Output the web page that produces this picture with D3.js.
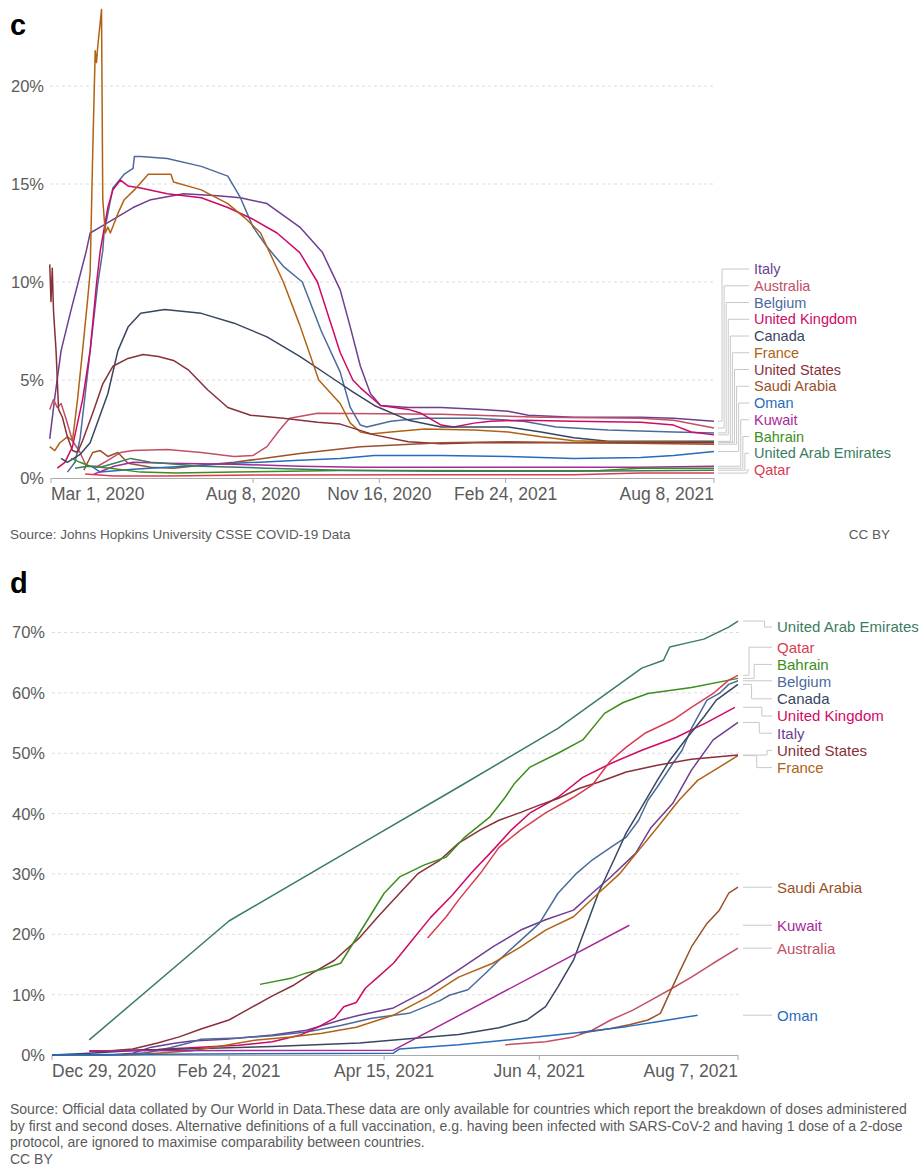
<!DOCTYPE html>
<html><head><meta charset="utf-8">
<script src="https://cdn.jsdelivr.net/npm/d3@7"></script>
<style>
html,body{margin:0;padding:0;background:#fff;}
svg{display:block;font-family:"Liberation Sans",Arial,Helvetica,sans-serif;}
</style></head>
<body>
<svg id="chart" width="920" height="1165"></svg>
<script>
// ---------------- DATA: chart c (case fatality rate, %) ----------------
const cfrItaly = [["2020-02-29",2.0],["2020-03-04",4.1],["2020-03-09",6.5],["2020-03-17",8.6],["2020-03-25",10.6],["2020-03-29",11.6],["2020-04-01",12.5],["2020-04-09",12.8],["2020-04-22",13.3],["2020-05-05",13.8],["2020-05-19",14.2],["2020-06-14",14.5],["2020-07-11",14.4],["2020-07-29",14.3],["2020-08-19",14.0],["2020-09-14",12.8],["2020-10-02",11.5],["2020-10-16",9.6],["2020-10-24",7.7],["2020-11-01",5.7],["2020-11-09",4.3],["2020-11-17",3.7],["2020-12-09",3.6],["2021-01-04",3.6],["2021-02-05",3.5],["2021-02-26",3.4],["2021-03-14",3.2],["2021-04-19",3.1],["2021-06-11",3.1],["2021-07-07",3.05],["2021-08-08",2.9]];
const cfrAustralia = [["2020-02-29",3.5],["2020-03-03",4.0],["2020-03-06",3.6],["2020-03-09",3.8],["2020-03-13",3.0],["2020-03-18",1.9],["2020-03-24",1.3],["2020-03-29",0.6],["2020-04-07",0.6],["2020-04-15",0.9],["2020-04-25",1.3],["2020-05-05",1.4],["2020-06-01",1.45],["2020-06-28",1.3],["2020-07-24",1.1],["2020-08-08",1.15],["2020-08-19",1.6],["2020-08-29",2.45],["2020-09-06",3.05],["2020-09-28",3.3],["2021-01-04",3.25],["2021-03-24",3.1],["2021-06-11",3.05],["2021-07-07",2.95],["2021-08-08",2.55]];
const cfrBelgium = [["2020-03-14",0.3],["2020-03-20",0.8],["2020-03-24",2.0],["2020-03-26",3.1],["2020-04-01",6.5],["2020-04-07",9.9],["2020-04-11",11.6],["2020-04-12",12.5],["2020-04-19",14.8],["2020-04-28",15.5],["2020-05-05",15.8],["2020-05-06",16.4],["2020-05-11",16.4],["2020-06-01",16.3],["2020-06-28",15.9],["2020-07-19",15.4],["2020-07-29",14.3],["2020-08-08",12.8],["2020-08-19",11.8],["2020-09-01",10.8],["2020-09-16",10.0],["2020-10-01",7.5],["2020-10-16",5.4],["2020-10-24",3.6],["2020-11-01",2.7],["2020-11-06",2.6],["2020-11-25",2.9],["2020-12-19",3.05],["2021-01-31",3.05],["2021-03-10",2.9],["2021-04-05",2.6],["2021-05-16",2.45],["2021-07-07",2.35],["2021-08-08",2.3]];
const cfrUK = [["2020-03-06",0.5],["2020-03-12",0.8],["2020-03-18",1.6],["2020-03-22",2.8],["2020-03-26",4.0],["2020-04-01",6.5],["2020-04-06",9.9],["2020-04-09",11.6],["2020-04-15",13.8],["2020-04-19",14.7],["2020-04-25",15.2],["2020-05-01",14.9],["2020-05-11",14.8],["2020-06-01",14.5],["2020-06-28",14.3],["2020-07-19",13.8],["2020-08-08",13.2],["2020-08-27",12.5],["2020-09-14",11.5],["2020-09-28",10.0],["2020-10-16",6.4],["2020-10-26",5.0],["2020-11-01",4.6],["2020-11-17",3.7],["2020-12-09",3.5],["2020-12-19",3.3],["2021-01-04",2.7],["2021-01-14",2.6],["2021-01-30",2.8],["2021-02-12",2.9],["2021-03-10",2.95],["2021-04-19",2.9],["2021-06-11",2.85],["2021-07-07",2.7],["2021-07-21",2.35],["2021-08-08",2.2]];
const cfrCanada = [["2020-03-09",1.0],["2020-03-14",0.8],["2020-03-24",1.2],["2020-04-01",1.8],["2020-04-15",4.3],["2020-04-23",6.5],["2020-05-01",7.7],["2020-05-11",8.4],["2020-05-30",8.6],["2020-06-28",8.4],["2020-07-24",7.9],["2020-08-19",7.2],["2020-09-14",6.2],["2020-10-12",5.0],["2020-10-26",4.4],["2020-11-12",3.7],["2020-12-09",2.95],["2021-01-04",2.6],["2021-02-26",2.6],["2021-03-24",2.35],["2021-04-19",2.05],["2021-05-16",1.87],["2021-08-08",1.87]];
const cfrFrance = [["2020-02-29",1.6],["2020-03-04",1.4],["2020-03-08",1.8],["2020-03-14",2.1],["2020-03-18",1.9],["2020-03-22",4.0],["2020-03-26",6.5],["2020-03-30",9.1],["2020-04-01",10.5],["2020-04-03",16.5],["2020-04-05",21.8],["2020-04-06",21.2],["2020-04-07",22.0],["2020-04-10",23.9],["2020-04-11",14.2],["2020-04-13",12.5],["2020-04-15",12.8],["2020-04-17",12.5],["2020-04-23",13.5],["2020-04-28",14.2],["2020-05-06",14.7],["2020-05-17",15.5],["2020-05-27",15.5],["2020-06-04",15.5],["2020-06-06",15.1],["2020-06-28",14.7],["2020-07-19",14.0],["2020-08-01",13.3],["2020-08-14",12.5],["2020-08-19",11.8],["2020-09-01",10.0],["2020-09-14",7.8],["2020-09-29",5.0],["2020-10-16",3.8],["2020-10-24",2.8],["2020-11-01",2.35],["2020-11-09",2.25],["2020-11-25",2.35],["2020-12-22",2.5],["2021-01-30",2.45],["2021-02-26",2.35],["2021-03-24",2.1],["2021-04-19",1.9],["2021-05-16",1.85],["2021-08-08",1.83]];
const cfrUS = [["2020-02-29",10.9],["2020-03-01",9.0],["2020-03-02",10.7],["2020-03-03",8.5],["2020-03-05",6.5],["2020-03-07",3.5],["2020-03-10",3.1],["2020-03-14",2.1],["2020-03-18",1.4],["2020-03-22",1.3],["2020-03-26",1.9],["2020-04-03",3.3],["2020-04-11",4.8],["2020-04-19",5.7],["2020-05-01",6.1],["2020-05-13",6.3],["2020-05-25",6.2],["2020-06-06",6.0],["2020-06-18",5.5],["2020-07-03",4.5],["2020-07-19",3.6],["2020-08-06",3.2],["2020-09-01",3.05],["2020-09-28",2.85],["2020-10-16",2.75],["2020-11-12",2.2],["2020-12-09",1.85],["2021-01-04",1.75],["2021-01-30",1.8],["2021-08-08",1.8]];
const cfrSaudi = [["2020-03-27",0.4],["2020-04-03",1.3],["2020-04-09",1.4],["2020-04-15",1.1],["2020-04-23",1.3],["2020-05-01",0.75],["2020-05-19",0.55],["2020-06-06",0.5],["2020-06-28",0.65],["2020-07-24",0.8],["2020-09-14",1.25],["2020-11-01",1.6],["2021-01-04",1.8],["2021-02-26",1.85],["2021-08-08",1.72]];
const cfrOman = [["2020-04-02",0.6],["2020-04-09",0.3],["2020-05-05",0.45],["2020-06-01",0.55],["2020-07-24",0.75],["2020-09-14",0.9],["2020-10-16",1.0],["2020-11-12",1.15],["2021-01-04",1.15],["2021-02-26",1.1],["2021-04-19",1.0],["2021-06-11",1.05],["2021-07-07",1.15],["2021-08-08",1.35]];
const cfrKuwait = [["2020-04-04",0.2],["2020-04-20",0.6],["2020-05-05",0.8],["2020-06-01",0.75],["2020-07-24",0.7],["2020-09-14",0.6],["2020-11-01",0.55],["2021-02-26",0.55],["2021-06-11",0.55],["2021-08-08",0.6]];
const cfrBahrain = [["2020-03-17",1.0],["2020-03-24",0.8],["2020-04-01",0.6],["2020-04-17",0.5],["2020-05-11",0.3],["2020-06-08",0.25],["2020-07-24",0.3],["2020-10-16",0.38],["2021-02-26",0.37],["2021-05-10",0.38],["2021-06-11",0.5],["2021-08-08",0.5]];
const cfrUAE = [["2020-03-20",0.5],["2020-03-30",0.6],["2020-04-09",0.55],["2020-04-23",0.8],["2020-05-03",1.0],["2020-05-19",0.8],["2020-06-28",0.6],["2020-08-19",0.5],["2020-10-16",0.4],["2021-01-04",0.35],["2021-04-19",0.35],["2021-08-08",0.4]];
const cfrQatar = [["2020-03-28",0.2],["2020-04-20",0.1],["2020-06-01",0.1],["2020-08-08",0.15],["2021-01-04",0.17],["2021-04-19",0.17],["2021-06-11",0.25],["2021-08-08",0.25]];

const cfrTicks = ["2020-03-01","2020-08-08","2020-11-16","2021-02-24","2021-08-08"];
const cfrYTicks = [0,5,10,15,20];

// ---------------- DATA: chart d (share fully vaccinated, %) ----------------
const vaxUAE = [["2021-01-10",2.5],["2021-02-24",22.2],["2021-04-07",34.8],["2021-05-09",44.4],["2021-06-10",54.1],["2021-07-07",64.1],["2021-07-14",65.4],["2021-07-16",67.6],["2021-07-21",68.2],["2021-07-27",68.9],["2021-07-31",69.9],["2021-08-04",70.9],["2021-08-07",71.9]];
const vaxQatar = [["2021-04-29",19.4],["2021-05-05",22.9],["2021-05-09",25.7],["2021-05-16",30.1],["2021-05-22",34.4],["2021-05-29",37.3],["2021-06-06",40.1],["2021-06-15",42.7],["2021-06-21",44.7],["2021-06-27",48.8],["2021-07-02",51.0],["2021-07-08",53.3],["2021-07-17",55.5],["2021-07-23",57.6],["2021-07-30",59.9],["2021-08-04",62.1],["2021-08-07",62.9]];
const vaxBahrain = [["2021-03-06",11.7],["2021-03-16",12.7],["2021-03-21",13.6],["2021-03-26",14.2],["2021-04-01",15.2],["2021-04-15",26.8],["2021-04-20",29.5],["2021-04-28",31.5],["2021-05-05",32.8],["2021-05-11",36.1],["2021-05-19",39.4],["2021-05-24",42.7],["2021-05-27",45.0],["2021-06-01",47.7],["2021-06-10",50.0],["2021-06-18",52.2],["2021-06-25",56.6],["2021-07-01",58.4],["2021-07-09",59.9],["2021-07-23",60.9],["2021-08-07",62.4]];
const vaxBelgium = [["2020-12-29",0.0],["2021-01-20",0.0],["2021-01-29",0.4],["2021-02-05",1.2],["2021-02-11",2.0],["2021-02-15",2.6],["2021-02-27",2.8],["2021-03-10",3.2],["2021-03-21",3.8],["2021-04-01",4.9],["2021-04-11",6.1],["2021-04-23",6.9],["2021-05-03",9.0],["2021-05-06",9.9],["2021-05-12",10.8],["2021-05-18",13.7],["2021-05-23",16.2],["2021-05-29",19.0],["2021-06-04",21.8],["2021-06-10",26.8],["2021-06-16",30.1],["2021-06-21",32.3],["2021-06-27",34.4],["2021-07-02",36.1],["2021-07-06",38.9],["2021-07-09",42.2],["2021-07-12",44.4],["2021-07-17",48.3],["2021-07-20",50.5],["2021-07-23",54.1],["2021-07-28",58.8],["2021-08-01",59.9],["2021-08-04",61.4],["2021-08-07",62.0]];
const vaxCanada = [["2020-12-29",0.0],["2021-01-10",0.3],["2021-01-26",0.8],["2021-03-10",1.4],["2021-04-07",2.0],["2021-05-09",3.4],["2021-05-22",4.5],["2021-05-31",5.8],["2021-06-06",8.0],["2021-06-10",11.3],["2021-06-15",15.7],["2021-06-19",21.2],["2021-06-23",26.8],["2021-06-28",32.3],["2021-07-02",36.8],["2021-07-07",41.1],["2021-07-12",45.5],["2021-07-16",48.8],["2021-07-21",52.2],["2021-07-27",56.0],["2021-07-31",58.8],["2021-08-07",61.4]];
const vaxUK = [["2021-01-10",0.6],["2021-02-01",0.9],["2021-02-27",1.6],["2021-03-10",2.2],["2021-03-19",3.3],["2021-03-25",4.7],["2021-03-30",6.1],["2021-04-02",8.0],["2021-04-06",8.7],["2021-04-09",11.1],["2021-04-13",12.9],["2021-04-18",15.2],["2021-04-24",19.0],["2021-04-30",22.8],["2021-05-07",26.5],["2021-05-13",30.1],["2021-05-20",33.9],["2021-05-26",37.3],["2021-06-01",40.1],["2021-06-10",42.7],["2021-06-18",46.0],["2021-06-27",48.3],["2021-07-07",50.5],["2021-07-18",52.6],["2021-07-28",55.1],["2021-08-06",57.6]];
const vaxItaly = [["2020-12-29",0.0],["2021-01-17",0.0],["2021-01-24",0.3],["2021-01-30",1.3],["2021-02-07",2.0],["2021-02-12",2.3],["2021-02-23",2.6],["2021-03-10",3.3],["2021-03-21",4.1],["2021-04-01",5.8],["2021-04-07",6.6],["2021-04-18",7.8],["2021-04-29",10.8],["2021-05-09",14.1],["2021-05-20",17.9],["2021-05-29",20.7],["2021-06-06",22.4],["2021-06-15",24.0],["2021-06-21",26.8],["2021-06-27",29.5],["2021-07-05",33.4],["2021-07-10",37.7],["2021-07-17",41.7],["2021-07-23",47.2],["2021-07-30",52.2],["2021-08-07",55.1]];
const vaxUS = [["2021-01-12",0.5],["2021-01-24",1.0],["2021-02-01",2.0],["2021-02-08",3.0],["2021-02-15",4.3],["2021-02-24",5.8],["2021-03-03",7.8],["2021-03-10",9.8],["2021-03-17",11.6],["2021-03-23",13.6],["2021-03-30",15.7],["2021-04-07",19.4],["2021-04-13",22.9],["2021-04-20",26.8],["2021-04-26",30.1],["2021-05-03",32.3],["2021-05-09",35.1],["2021-05-16",37.3],["2021-05-22",38.9],["2021-05-29",40.2],["2021-06-04",41.4],["2021-06-10",42.5],["2021-06-17",44.2],["2021-06-23",45.2],["2021-07-02",46.9],["2021-07-12",48.0],["2021-07-23",49.0],["2021-08-07",49.7]];
const vaxFrance = [["2021-01-20",0.0],["2021-01-26",0.1],["2021-02-12",0.7],["2021-02-23",1.6],["2021-03-05",2.5],["2021-03-16",3.0],["2021-03-26",3.6],["2021-04-06",4.6],["2021-04-18",6.6],["2021-04-29",9.6],["2021-05-09",12.9],["2021-05-20",15.2],["2021-05-29",17.9],["2021-06-06",20.7],["2021-06-15",22.9],["2021-06-23",26.8],["2021-06-30",30.1],["2021-07-06",33.9],["2021-07-12",37.7],["2021-07-19",42.2],["2021-07-25",45.5],["2021-08-01",47.7],["2021-08-07",49.6]];
const vaxSaudi = [["2021-06-17",3.6],["2021-06-27",4.4],["2021-07-03",5.0],["2021-07-09",5.8],["2021-07-13",6.9],["2021-07-16",10.3],["2021-07-19",13.6],["2021-07-23",17.9],["2021-07-28",21.8],["2021-08-01",24.0],["2021-08-04",26.8],["2021-08-07",27.8]];
const vaxKuwait = [["2021-01-10",0.7],["2021-04-18",0.8],["2021-07-03",21.5]];
const vaxAustralia = [["2021-05-24",1.7],["2021-06-06",2.2],["2021-06-15",3.0],["2021-06-21",4.1],["2021-06-27",5.8],["2021-07-04",7.4],["2021-07-10",9.1],["2021-07-17",11.1],["2021-07-23",12.9],["2021-07-30",15.2],["2021-08-07",17.7]];
const vaxOman = [["2020-12-29",0.0],["2021-01-18",0.1],["2021-04-18",0.3],["2021-04-20",1.0],["2021-05-09",1.7],["2021-05-31",2.8],["2021-06-16",3.7],["2021-07-02",4.7],["2021-07-12",5.5],["2021-07-25",6.6]];

const vaxTicks = ["2020-12-29","2021-02-24","2021-04-15","2021-06-04","2021-08-07"];
const vaxYTicks = [0,10,20,30,40,50,60,70];

const countries = ["Italy","Australia","Belgium","United Kingdom","Canada","France","United States","Saudi Arabia","Oman","Kuwait","Bahrain","United Arab Emirates","Qatar"];
const cfrSeries = [cfrItaly,cfrAustralia,cfrBelgium,cfrUK,cfrCanada,cfrFrance,cfrUS,cfrSaudi,cfrOman,cfrKuwait,cfrBahrain,cfrUAE,cfrQatar];
const vaxSeries = [vaxItaly,vaxAustralia,vaxBelgium,vaxUK,vaxCanada,vaxFrance,vaxUS,vaxSaudi,vaxOman,vaxKuwait,vaxBahrain,vaxUAE,vaxQatar];

const sourceC = "Source: Johns Hopkins University CSSE COVID-19 Data";
const sourceD = ["Source: Official data collated by Our World in Data.These data are only available for countries which report the breakdown of doses administered",
 "by first and second doses. Alternative definitions of a full vaccination, e.g. having been infected with SARS-CoV-2 and having 1 dose of a 2-dose",
 "protocol, are ignored to maximise comparability between countries.",
 "CC BY"];

// ---------------- STYLE ----------------
const colors = {
  "Italy":"#6D3E91","Australia":"#C15065","Belgium":"#4C6A9C","United Kingdom":"#CF0A66",
  "Canada":"#38475F","France":"#B16214","United States":"#883039","Saudi Arabia":"#9A5129",
  "Oman":"#286BBB","Kuwait":"#A62A98","Bahrain":"#3B8E1D","United Arab Emirates":"#3B7D5F","Qatar":"#D73C50"
};

const svg = d3.select("#chart");
const parse = d3.utcParse("%Y-%m-%d");
const fmt = d3.utcFormat("%b %-d, %Y");
const TXT = "#5b5b5b";

function drawPanel(cfg){
  const g = svg.append("g");
  const x = d3.scaleUtc().domain([parse(cfg.xDomain[0]), parse(cfg.xDomain[1])]).range([cfg.x0, cfg.x1]);
  const y = d3.scaleLinear().domain([0, cfg.yRef]).range([cfg.yBase, cfg.yRefPx]);

  g.append("text").attr("x",10).attr("y",cfg.letterY).text(cfg.letter)
    .attr("font-size",29).attr("font-weight","bold").attr("fill","#000");

  g.selectAll(".grid").data(cfg.yTicks.filter(v=>v>0)).enter().append("line")
    .attr("x1",cfg.gx0).attr("x2",cfg.x1+1).attr("y1",d=>y(d)).attr("y2",d=>y(d))
    .attr("stroke","#dcdcdc").attr("stroke-dasharray","3,3").attr("stroke-width",1);
  g.selectAll(".yl").data(cfg.yTicks).enter().append("text")
    .attr("x",cfg.yLabelX).attr("y",d=>y(d)).attr("dy","0.36em").attr("text-anchor","end")
    .attr("font-size",16.5).attr("fill",TXT).text(d=>d+"%");

  g.append("line").attr("x1",cfg.x0).attr("x2",cfg.x1).attr("y1",cfg.yBase+0.5).attr("y2",cfg.yBase+0.5)
    .attr("stroke","#aaa").attr("stroke-width",1);
  const ticks = cfg.xTicks.map(parse);
  g.selectAll(".xt").data(ticks).enter().append("line")
    .attr("x1",d=>x(d)).attr("x2",d=>x(d)).attr("y1",cfg.yBase).attr("y2",cfg.yBase+5)
    .attr("stroke","#aaa");
  g.selectAll(".xl").data(ticks).enter().append("text")
    .attr("x",d=>x(d)).attr("y",cfg.yBase+22)
    .attr("text-anchor",(d,i)=> i===0?"start":(i===ticks.length-1?"end":"middle"))
    .attr("font-size",17.5).attr("fill",TXT).text(d=>fmt(d));

  const line = d3.line().x(d=>x(parse(d[0]))).y(d=>y(d[1]));
  const items = cfg.names.map((n,i)=>({name:n, data:cfg.series[i]}));
  g.selectAll(".ln").data(items).enter().append("path")
    .attr("d",d=>line(d.data)).attr("fill","none").attr("stroke",d=>colors[d.name])
    .attr("stroke-width",1.5).attr("stroke-linejoin","round");

  const labs = items.map(d=>{const l=d.data[d.data.length-1]; return {name:d.name, desired:y(l[1])};})
    .sort((a,b)=>a.desired-b.desired);
  const gap = cfg.gap;
  let blocks = labs.map(d=>({ds:[d]}));
  const lay = b=>{const m=d3.mean(b.ds,d=>d.desired); let t=m-(b.ds.length-1)*gap/2;
    t=Math.max(cfg.minY, Math.min(cfg.maxY-(b.ds.length-1)*gap, t)); b.top=t;};
  blocks.forEach(lay);
  let merged=true;
  while(merged){ merged=false;
    for(let i=1;i<blocks.length;i++){ const a=blocks[i-1], b=blocks[i];
      if(a.top+a.ds.length*gap > b.top+0.01){ a.ds=a.ds.concat(b.ds); blocks.splice(i,1); lay(a); merged=true; break; } } }
  blocks.forEach(b=>b.ds.forEach((d,k)=>d.ly=b.top+k*gap));

  const moved = labs.filter(d=>Math.abs(d.ly-d.desired)>1).sort((a,b)=>Math.abs(b.ly-b.desired)-Math.abs(a.ly-a.desired));
  moved.forEach((d,i)=>{ d.sx = moved.length>1 ? cfg.stepA + i*(cfg.stepB-cfg.stepA)/(moved.length-1) : cfg.stepB; });

  labs.forEach(d=>{
    const sx = cfg.connStart, lx = cfg.labelX-5;
    const p = d.sx===undefined ? `M${sx},${d.desired}H${lx}` : `M${sx},${d.desired}H${d.sx}V${d.ly}H${lx}`;
    g.append("path").attr("d",p).attr("fill","none").attr("stroke","#c8c8c8").attr("stroke-width",1);
    g.append("text").attr("x",cfg.labelX).attr("y",d.ly).attr("dy","0.36em")
      .attr("font-size",cfg.labelSize).attr("fill",colors[d.name]).text(d.name);
  });
}

drawPanel({letter:"c", letterY:35, xDomain:["2020-03-01","2021-08-08"], x0:51, x1:714, gx0:50,
  yRef:20, yBase:478, yRefPx:86, yTicks:cfrYTicks, yLabelX:44, xTicks:cfrTicks,
  names:countries, series:cfrSeries, gap:16.75, minY:20, maxY:470,
  connStart:718, stepA:722, stepB:747, labelX:754, labelSize:14.5});

drawPanel({letter:"d", letterY:593, xDomain:["2020-12-29","2021-08-07"], x0:52, x1:738, gx0:52,
  yRef:70, yBase:1055, yRefPx:632.5, yTicks:vaxYTicks, yLabelX:45, xTicks:vaxTicks,
  names:countries, series:vaxSeries, gap:17.2, minY:627, maxY:1045,
  connStart:743, stepA:749, stepB:767, labelX:777, labelSize:15});

svg.append("text").attr("x",10).attr("y",539).attr("font-size",13.5).attr("fill",TXT).text(sourceC);
svg.append("text").attr("x",890).attr("y",539).attr("text-anchor","end").attr("font-size",13.5).attr("fill",TXT).text("CC BY");
svg.selectAll(".src").data(sourceD).enter().append("text")
  .attr("x",10).attr("y",(d,i)=>1114+i*16.5).attr("font-size",14).attr("fill",TXT).text(d=>d);
</script>
</body></html>
